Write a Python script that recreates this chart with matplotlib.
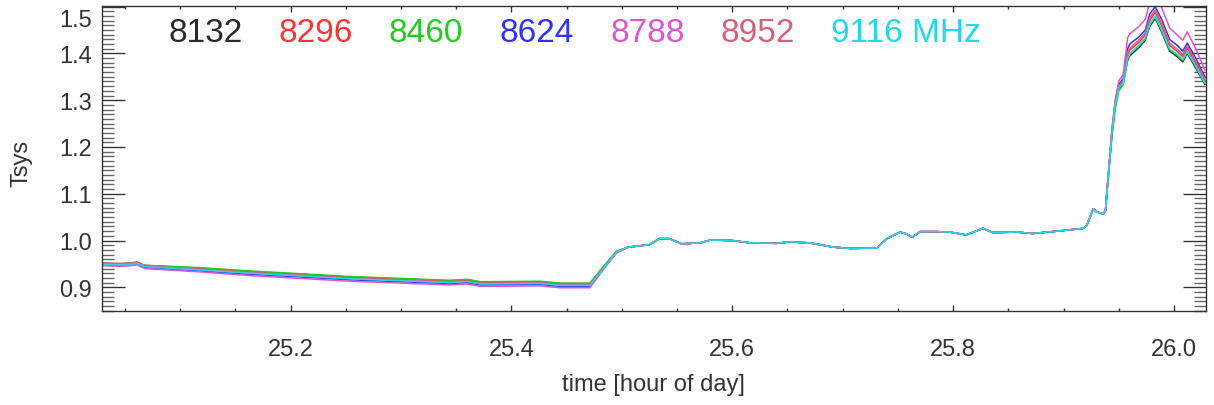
#Tsys vs time, one line per frequency channel

import numpy as np
import matplotlib
matplotlib.use('Agg')
import matplotlib.pyplot as plt
from matplotlib.ticker import MultipleLocator

plt.rcParams['font.family'] = ['Liberation Sans', 'DejaVu Sans']

# time axis [hour of day], split in three parts
t_early = [25.029, 25.046, 25.055, 25.061, 25.068, 25.118, 25.163, 25.209, 25.254,
           25.299, 25.344, 25.360, 25.372, 25.426, 25.444, 25.471, 25.482, 25.495]
t_mid = [25.506, 25.525, 25.534, 25.543, 25.554, 25.571, 25.580, 25.600, 25.616,
         25.640, 25.652, 25.670, 25.691, 25.707, 25.731, 25.740, 25.752, 25.758,
         25.763, 25.770, 25.785, 25.797, 25.812, 25.827, 25.836, 25.858, 25.872,
         25.894, 25.918, 25.921, 25.927, 25.930, 25.936, 25.938]
t_spike = [25.939, 25.944, 25.947, 25.950, 25.954, 25.958, 25.960, 25.968, 25.974,
           25.978, 25.983, 25.989, 25.996, 26.003, 26.008, 26.012, 26.019, 26.028]

# middle part is the same for every channel
tsys_mid = [0.986, 0.991, 1.004, 1.004, 0.993, 0.995, 1.001, 1.000, 0.995, 0.994,
            0.997, 0.995, 0.986, 0.983, 0.984, 1.004, 1.018, 1.014, 1.007, 1.019,
            1.019, 1.018, 1.012, 1.026, 1.017, 1.018, 1.015, 1.020, 1.026, 1.032,
            1.068, 1.061, 1.057, 1.064]

early_8132 = [0.951, 0.950, 0.951, 0.953, 0.946, 0.940, 0.933, 0.927, 0.921,
              0.917, 0.913, 0.915, 0.910, 0.911, 0.907, 0.907, 0.939, 0.976]
early_8296 = [0.952, 0.951, 0.952, 0.954, 0.947, 0.941, 0.934, 0.928, 0.922,
              0.918, 0.914, 0.916, 0.911, 0.912, 0.908, 0.908, 0.939, 0.976]
early_8460 = [0.951, 0.950, 0.951, 0.953, 0.947, 0.942, 0.935, 0.929, 0.923,
              0.919, 0.915, 0.917, 0.912, 0.913, 0.909, 0.909, 0.941, 0.977]
early_8624 = [0.948, 0.947, 0.948, 0.950, 0.942, 0.935, 0.928, 0.922, 0.916,
              0.912, 0.908, 0.910, 0.905, 0.906, 0.902, 0.902, 0.936, 0.974]
early_8788 = [0.946, 0.945, 0.946, 0.948, 0.940, 0.933, 0.925, 0.919, 0.913,
              0.909, 0.905, 0.907, 0.902, 0.903, 0.899, 0.899, 0.934, 0.973]
early_8952 = [0.951, 0.950, 0.951, 0.953, 0.945, 0.939, 0.932, 0.926, 0.920,
              0.916, 0.912, 0.914, 0.909, 0.910, 0.906, 0.906, 0.938, 0.976]
early_9116 = [0.949, 0.948, 0.949, 0.951, 0.944, 0.937, 0.930, 0.924, 0.918,
              0.914, 0.910, 0.912, 0.907, 0.908, 0.904, 0.904, 0.937, 0.975]

spike_8132 = [1.095, 1.233, 1.290, 1.325, 1.335, 1.385, 1.395, 1.412, 1.428,
              1.458, 1.475, 1.445, 1.405, 1.393, 1.382, 1.400, 1.372, 1.334]
spike_8296 = [1.095, 1.236, 1.294, 1.329, 1.340, 1.397, 1.407, 1.423, 1.439,
              1.470, 1.488, 1.458, 1.417, 1.404, 1.393, 1.411, 1.382, 1.341]
spike_8460 = [1.093, 1.225, 1.283, 1.320, 1.333, 1.388, 1.398, 1.415, 1.431,
              1.461, 1.478, 1.448, 1.408, 1.396, 1.385, 1.403, 1.375, 1.336]
spike_8624 = [1.096, 1.238, 1.298, 1.334, 1.346, 1.410, 1.420, 1.435, 1.450,
              1.484, 1.500, 1.472, 1.430, 1.417, 1.405, 1.422, 1.393, 1.350]
spike_8788 = [1.097, 1.243, 1.304, 1.341, 1.355, 1.433, 1.442, 1.457, 1.473,
              1.508, 1.525, 1.497, 1.455, 1.439, 1.428, 1.446, 1.414, 1.364]
spike_8952 = [1.096, 1.237, 1.295, 1.331, 1.342, 1.402, 1.411, 1.428, 1.444,
              1.476, 1.493, 1.463, 1.422, 1.409, 1.398, 1.416, 1.387, 1.345]
spike_9116 = [1.095, 1.234, 1.292, 1.327, 1.337, 1.390, 1.400, 1.417, 1.433,
              1.463, 1.480, 1.450, 1.410, 1.398, 1.387, 1.405, 1.376, 1.337]

freqs = ['8132', '8296', '8460', '8624', '8788', '8952', '9116']
colors = ['#2a2a2a', '#ff3333', '#22cc22', '#3030ff', '#dd55cc', '#d6607a', '#22d8ee']


def main():
    early = [early_8132, early_8296, early_8460, early_8624, early_8788, early_8952, early_9116]
    spike = [spike_8132, spike_8296, spike_8460, spike_8624, spike_8788, spike_8952, spike_9116]
    time = np.array(t_early + t_mid + t_spike)

    fig = plt.figure(figsize=(12.14, 4.06), dpi=100)
    ax = fig.add_axes([0.0838, 0.2323, 0.9096, 0.7512])

    for i in range(len(freqs)):
        tsys = np.array(early[i] + tsys_mid + spike[i])
        ax.plot(time, tsys, color=colors[i], lw=1.1)

    ax.set_xlim(25.029, 26.029)
    ax.set_ylim(0.85, 1.502)

    # ticks, IDL style (inside, on all four sides)
    ax.xaxis.set_major_locator(MultipleLocator(0.2))
    ax.xaxis.set_minor_locator(MultipleLocator(0.05))
    ax.yaxis.set_major_locator(MultipleLocator(0.1))
    ax.yaxis.set_minor_locator(MultipleLocator(0.01))
    ax.tick_params(axis='both', which='both', direction='in', top=True, right=True,
                   colors='#333333', labelcolor='#333333', labelsize=17)
    ax.tick_params(axis='x', which='major', length=4.5, width=1.0, pad=20)
    ax.tick_params(axis='x', which='minor', length=2.2, width=1.0)
    ax.tick_params(axis='y', which='major', length=16.5, width=1.0, pad=7)
    ax.tick_params(axis='y', which='minor', length=8.5, width=1.0, color='#666666')

    yt = [0.9, 1.0, 1.1, 1.2, 1.3, 1.4, 1.5]
    ax.set_yticks(yt)
    ax.set_yticklabels(['%.1f' % v for v in yt[:-1]] + [''])
    # top label sits a bit lower so it stays inside the figure
    ax.annotate('1.5', xy=(0, 1.5), xycoords=ax.get_yaxis_transform(),
                xytext=(-10, -13), textcoords='offset pixels',
                ha='right', va='center', fontsize=17, color='#333333')

    for s in ax.spines.values():
        s.set_color('#333333')
        s.set_linewidth(1.0)

    ax.set_xlabel('time [hour of day]', fontsize=17, color='#333333')
    ax.set_ylabel('Tsys', fontsize=17, color='#333333')
    ax.xaxis.set_label_coords(0.5, -0.205)
    ax.yaxis.set_label_coords(-0.063, 0.486)

    # channel labels along the top
    for i in range(len(freqs)):
        txt = freqs[i]
        if i == len(freqs) - 1:
            txt = txt + ' MHz'
        fig.text((168 + i * 110.5) / 1214.0, 1 - 34 / 406.0, txt, color=colors[i],
                 fontsize=24, ha='left', va='center')

    fig.savefig('out.png', dpi=100)


main()
